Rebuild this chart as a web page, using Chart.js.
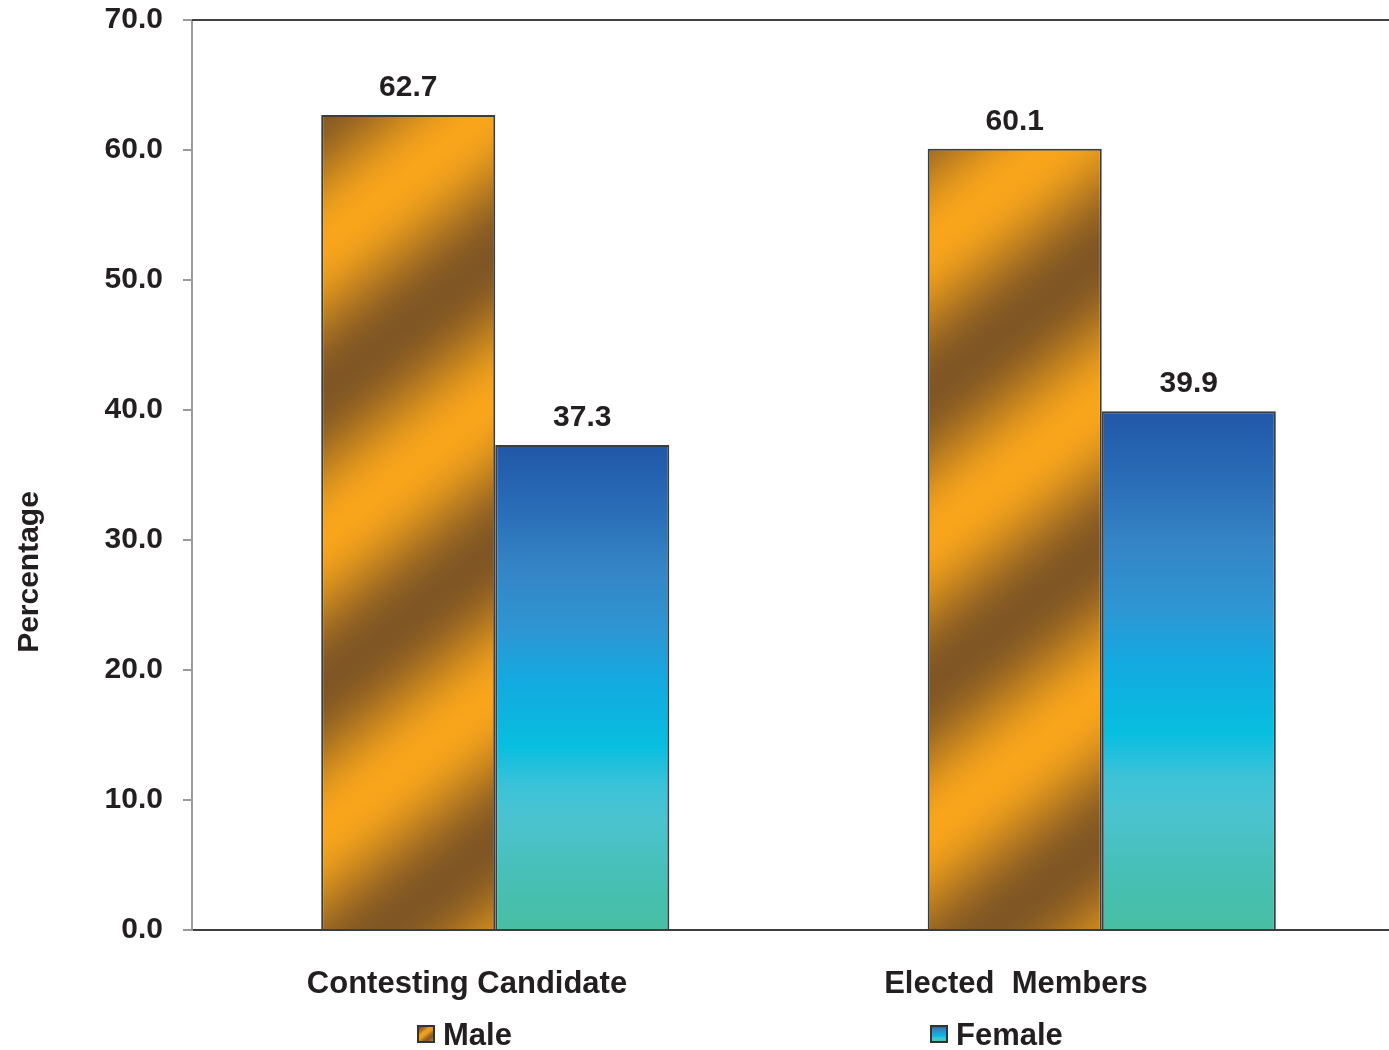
<!DOCTYPE html>
<html><head><meta charset="utf-8">
<script src="https://cdn.jsdelivr.net/npm/chart.js@4.4.1/dist/chart.umd.min.js"></script>
<style>
html,body{margin:0;padding:0;overflow:hidden;background:#fff;width:1389px;height:1050px;}
#wrap{position:absolute;left:0;top:0;width:1405px;height:1050px;}
</style></head><body>
<div id="wrap"><canvas id="c" width="1405" height="1050"></canvas></div>
<script>
const categories = ['Contesting Candidate', 'Elected  Members'];
const seriesNames = ['Male', 'Female'];
const maleValues = [62.7, 60.1];
const femaleValues = [37.3, 39.9];
const yTickLabels = ['0.0','10.0','20.0','30.0','40.0','50.0','60.0','70.0'];
const axisTitle = 'Percentage';

const FONT = "'Liberation Sans', Arial, sans-serif";
const TEXT = '#231F20';
const CAT_PCT = 0.574;
const ORANGE = [248,165,27], BROWN = [128,86,36];

function mix(a,b,t){return 'rgb('+a.map((v,i)=>Math.round(v+(b[i]-v)*t)).join(',')+')';}
function maleGrad(c2d, left, bottom, w, h, period, phase){
  const dx=0.62, dy=0.785;
  const sMin=-h*dy-4, sMax=w*dx+4;
  const g=c2d.createLinearGradient(left+sMin*dx, bottom+sMin*dy, left+sMax*dx, bottom+sMax*dy);
  const n=Math.max(8, Math.ceil((sMax-sMin)/3));
  for(let i=0;i<=n;i++){
    const s=sMin+(sMax-sMin)*i/n;
    const t=(1+Math.cos(2*Math.PI*(s+phase)/period))/2;
    g.addColorStop(i/n, mix(BROWN,ORANGE,t));
  }
  return g;
}
const femaleStops=[[0,'#2157A7'],[0.14,'#2A6EB8'],[0.25,'#3584C5'],[0.38,'#2E96D3'],[0.48,'#14A9E0'],[0.62,'#07BEDF'],[0.70,'#3AC2D8'],[0.77,'#4BC3D0'],[0.88,'#47C0B8'],[1,'#48BEA2']];
function femaleGrad(c2d, top, bottom){
  const g=c2d.createLinearGradient(0,top,0,bottom);
  femaleStops.forEach(s=>g.addColorStop(s[0],s[1]));
  return g;
}
function barGeom(ctx, which){
  const chart=ctx.chart, xs=chart.scales.x, ys=chart.scales.y;
  if(ctx.type!=='data'||!xs||!ys||!chart.chartArea) return null;
  const center=xs.getPixelForValue(ctx.dataIndex);
  const catW=xs.width/categories.length;
  const barW=catW*CAT_PCT/2;
  const left=which===0?center-barW:center;
  const bottom=ys.getPixelForValue(0);
  const top=ys.getPixelForValue(ctx.raw);
  return {left,bottom,top,w:barW,h:bottom-top};
}

const extras={
  id:'extras',
  afterDraw(chart){
    const c=chart.ctx, a=chart.chartArea;
    c.save();
    c.strokeStyle='#404040'; c.lineWidth=2;
    c.beginPath(); c.moveTo(a.left, a.top); c.lineTo(a.right, a.top); c.stroke();
    c.fillStyle=TEXT; c.textAlign='center'; c.textBaseline='alphabetic';
    c.font='bold 30px '+FONT;
    chart.data.datasets.forEach((ds,di)=>{
      chart.getDatasetMeta(di).data.forEach((el,i)=>{
        c.fillText(ds.data[i].toFixed(1), el.x, el.y-19);
      });
    });
    c.font='bold 31px '+FONT;
    const catX=[467,1016];
    categories.forEach((t,i)=>c.fillText(t, catX[i], 993));
    const legX=[417,930];
    seriesNames.forEach((name,i)=>{
      const x=legX[i], y=1025, s=18;
      c.fillStyle = i===0 ? maleGrad(c,x,y+s,s,s,14,3) : femaleGrad(c,y,y+s);
      c.fillRect(x,y,s,s);
      c.strokeStyle='#333'; c.lineWidth=2; c.strokeRect(x+1,y+1,s-2,s-2);
      c.fillStyle=TEXT; c.textAlign='left'; c.font='bold 31px '+FONT;
      c.fillText(name, x+s+8, 1045);
    });
    c.save();
    c.translate(38,572); c.rotate(-Math.PI/2);
    c.textAlign='center'; c.textBaseline='alphabetic'; c.font='bold 30px '+FONT;
    c.fillStyle=TEXT; c.fillText(axisTitle,0,0);
    c.restore();
    c.restore();
  }
};

new Chart(document.getElementById('c'),{
  type:'bar',
  data:{
    labels:categories,
    datasets:[
      {label:seriesNames[0], data:maleValues,
       backgroundColor:(ctx)=>{const g=barGeom(ctx,0); return g?maleGrad(ctx.chart.ctx,g.left,g.bottom,g.w,g.h,230,77):'#E09A2A';},
       borderColor:'#3C3C3C', borderWidth:2, categoryPercentage:CAT_PCT, barPercentage:1},
      {label:seriesNames[1], data:femaleValues,
       backgroundColor:(ctx)=>{const g=barGeom(ctx,1); return g?femaleGrad(ctx.chart.ctx,g.top,g.bottom):'#2E96D3';},
       borderColor:'#3C3C3C', borderWidth:2, categoryPercentage:CAT_PCT, barPercentage:1}
    ]
  },
  options:{
    responsive:false, animation:false, devicePixelRatio:1,
    layout:{padding:{left:0,right:0,top:20,bottom:0}},
    plugins:{legend:{display:false}, tooltip:{enabled:false}, title:{display:false}},
    scales:{
      x:{type:'category', offset:true,
         ticks:{display:false}, grid:{display:false},
         border:{display:true, color:'#3D3D3D', width:2},
         afterFit(s){ s.height=120; s.paddingLeft=0; s.paddingRight=0; }},
      y:{min:0, max:70,
         ticks:{stepSize:10, padding:20, color:TEXT, font:{family:FONT, size:30, weight:'bold'},
                callback:(v,i)=>yTickLabels[i]},
         grid:{display:true, drawOnChartArea:false, drawTicks:true, tickLength:9, color:'#9A9A9A', lineWidth:2},
         border:{display:true, color:'#9A9A9A', width:2},
         afterFit(s){ s.width=192; s.paddingTop=0; s.paddingBottom=0; }}
    }
  },
  plugins:[extras]
});
</script>
</body></html>
